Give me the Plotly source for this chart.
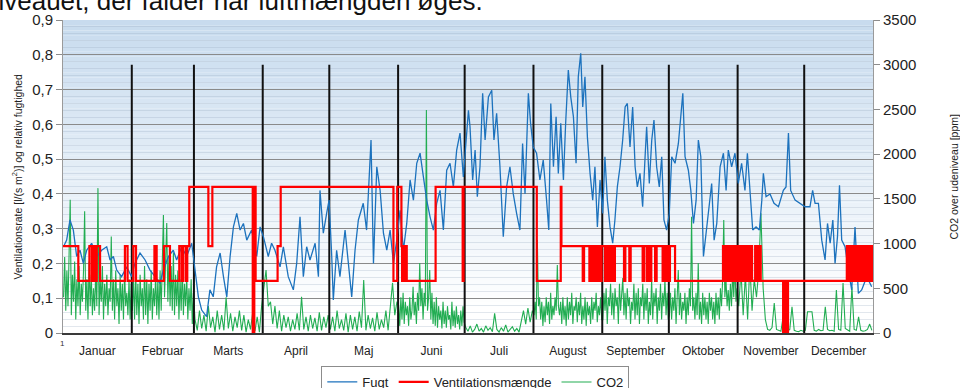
import numpy as np
import plotly.graph_objects as go

# ---------------- DATA ----------------
month_names = ["Januar", "Februar", "Marts", "April", "Maj", "Juni", "Juli",
               "August", "September", "Oktober", "November", "December"]
month_start = [0, 31, 59, 90, 120, 151, 181, 212, 243, 273, 304, 334, 365]
vline_top_ppm = 3000

# Relative humidity (Fugt), left axis
fugt_day = [0.2, 1.65, 3.15, 4.66, 6.16, 7.66, 9.16, 10.67, 12.9, 15.2, 17.4, 19.7, 21.2, 22.7, 24.2, 26.4, 28.7, 30.9,
            32.4, 34.7, 37.0, 39.2, 41.5, 43.7, 45.2, 47.5, 49.7, 51.2, 53.5, 55.7, 58.0, 59.5, 61.0, 62.5, 64.7, 66.2,
            67.7, 69.2, 70.8, 72.3, 73.8, 75.3, 76.8, 78.3, 79.8, 81.3, 82.8, 85.0, 87.3, 88.8, 90.3,
            92.5, 94.0, 95.5, 97.8, 99.3, 101.5, 103.8, 105.3, 106.8, 108.3, 109.8, 111.3, 113.6, 115.1, 115.8, 117.3,
            118.8, 119.9, 121.1, 121.8, 123.3, 124.8, 127.1, 128.6, 130.1, 131.6, 133.1, 135.3, 136.8, 138.8, 139.9,
            141.4, 142.9, 144.4, 145.9, 147.4, 148.9, 150.4, 151.9, 153.4, 154.9, 156.4, 157.9, 159.4, 160.9, 162.4,
            163.9, 165.4, 166.9, 168.4, 169.9, 171.4, 172.9, 174.4, 175.9, 177.4, 178.9, 180.4, 182.7,
            183.4, 184.6, 185.7, 186.7, 187.9, 189.1, 190.2, 191.7, 193.2, 194.2, 195.4, 196.9, 198.4, 199.9, 201.4,
            202.9, 204.4, 205.9, 207.1, 208.2, 209.7, 210.7, 211.9, 213.4, 214.9, 216.4, 217.9, 218.9, 219.8, 221.0,
            222.2, 223.2, 224.3, 225.5, 226.5, 227.7, 228.8, 230.0, 231.2, 232.2, 233.3, 234.2, 235.2, 236.3, 237.5,
            238.7, 239.7, 240.8, 242.0, 243.2, 244.2, 245.3, 246.5, 247.7, 248.7, 249.8, 251.0, 252.2, 253.3, 254.3,
            255.5, 256.7, 257.8, 258.8, 260.0, 261.2, 262.3, 263.0, 264.2, 265.3, 266.3, 267.5, 268.7, 269.8, 270.8,
            272.0, 273.2,
            274.3, 275.8, 277.3, 279.3, 280.3, 281.8, 282.9, 284.1, 285.3, 286.3, 287.4, 288.6, 289.8, 291.3, 292.3,
            293.4, 294.6, 296.1, 297.6, 298.8, 299.8, 301.3, 302.8, 304.3, 305.8, 307.3, 308.4, 309.6, 310.8, 312.3,
            313.8, 314.9, 315.6, 316.8, 318.6, 320.4, 322.4, 324.6, 325.8, 326.9, 327.9, 329.9, 332.1, 334.4, 336.6,
            337.8, 338.9, 340.4, 341.9, 343.4, 344.5, 345.7, 346.9, 347.9, 349.0, 349.9, 350.9, 352.4, 353.9, 355.4,
            356.9, 358.4, 359.9, 362.2, 364.4]
fugt_val = [0.248, 0.267, 0.325, 0.296, 0.22, 0.238, 0.20, 0.238, 0.258, 0.22, 0.238, 0.248, 0.21, 0.22, 0.181, 0.162, 0.19, 0.162,
            0.20, 0.23, 0.21, 0.181, 0.162, 0.143, 0.181, 0.22, 0.238, 0.21, 0.248, 0.22, 0.258, 0.181, 0.104, 0.066, 0.047, 0.124,
            0.104, 0.19, 0.23, 0.162, 0.104, 0.22, 0.305, 0.344, 0.296, 0.315, 0.267, 0.296, 0.22, 0.305, 0.277,
            0.22, 0.258, 0.238, 0.19, 0.248, 0.162, 0.124, 0.20, 0.334, 0.162, 0.248, 0.21, 0.258, 0.162, 0.41, 0.287,
            0.344, 0.382, 0.22, 0.095, 0.238, 0.162, 0.296, 0.20, 0.104, 0.238, 0.325, 0.373, 0.296, 0.555, 0.20,
            0.478, 0.41, 0.287, 0.238, 0.296, 0.20, 0.267, 0.353, 0.238, 0.315, 0.44, 0.382, 0.488, 0.517, 0.449,
            0.382, 0.334, 0.296, 0.373, 0.41, 0.296, 0.468, 0.488, 0.42, 0.526, 0.575, 0.449, 0.64,
            0.593, 0.44, 0.526, 0.392, 0.478, 0.689, 0.555, 0.679, 0.698, 0.555, 0.632, 0.478, 0.277, 0.42, 0.478,
            0.40, 0.344, 0.296, 0.545, 0.40, 0.689, 0.603, 0.535, 0.517, 0.44, 0.497, 0.382, 0.296, 0.66, 0.478,
            0.622, 0.459, 0.603, 0.44, 0.603, 0.756, 0.679, 0.622, 0.488, 0.737, 0.804, 0.65, 0.737, 0.564, 0.459,
            0.382, 0.478, 0.305, 0.44, 0.344, 0.507, 0.382, 0.305, 0.258, 0.325, 0.42, 0.478, 0.555, 0.65, 0.66,
            0.535, 0.65, 0.478, 0.42, 0.459, 0.363, 0.507, 0.593, 0.43, 0.555, 0.612, 0.478, 0.42, 0.507, 0.325,
            0.296, 0.344,
            0.507, 0.488, 0.545, 0.689, 0.507, 0.468, 0.41, 0.315, 0.382, 0.555, 0.507, 0.22, 0.296, 0.373, 0.43,
            0.267, 0.315, 0.478, 0.517, 0.41, 0.526, 0.478, 0.517, 0.43, 0.488, 0.41, 0.517, 0.41, 0.296, 0.305,
            0.296, 0.382, 0.459, 0.392, 0.40, 0.373, 0.363, 0.41, 0.42, 0.575, 0.41, 0.382, 0.373, 0.363, 0.363,
            0.41, 0.373, 0.373, 0.267, 0.21, 0.315, 0.258, 0.325, 0.20, 0.277, 0.425, 0.267, 0.248, 0.181, 0.124,
            0.305, 0.114, 0.124, 0.162, 0.133]

# Ventilation rate (step series), left axis
vent_day = [0, 6.9, 11.9, 13.0, 13.3, 14.0, 14.3, 15.0, 15.2, 16.7, 27.9, 29.1, 31.7, 32.9, 41.2, 42.2, 45.5, 48.2,
            52.4, 53.5, 54.2, 55.4, 56.0, 56.9, 65.5, 67.3, 85.5, 86.2, 86.8, 96.7, 98.1, 148.9, 150.6, 152.5, 152.8,
            153.0, 153.3, 153.5, 153.8, 154.0, 154.3, 154.6, 154.9, 167.9, 180.1, 180.5, 213.5, 224.3, 224.6,
            234.2, 234.8, 237.2, 237.8, 238.7, 239.3, 240.2, 241.2, 242.0, 242.7,
            244.2, 244.6, 244.9, 245.3, 245.6, 246.0, 246.3, 246.7, 247.0, 247.4, 247.7, 248.1, 248.4, 248.7,
            252.8, 253.4, 255.2, 255.8, 261.2, 261.8, 263.0, 263.6, 264.5, 265.1, 266.8, 267.5,
            270.2, 270.6, 270.9, 271.3, 271.6, 272.0, 272.3, 272.7, 273.0, 273.5, 275.8,
            297.4, 297.9, 298.2, 298.8, 299.1, 299.7, 300.0, 300.6, 300.9, 301.5, 301.8, 302.4, 302.7, 303.3,
            303.6, 304.2, 304.5, 305.1, 305.4, 306.0, 306.3, 306.9, 307.2, 307.8, 308.1, 308.7, 309.0, 309.6,
            309.9, 310.5, 311.9, 312.2, 312.9, 313.2, 314.1, 314.4,
            324.5, 324.9, 325.1, 325.5, 325.7, 326.1, 326.3, 326.7,
            353.2, 353.8, 354.1, 354.7, 355.0, 355.6, 355.9, 356.5, 356.8, 357.4, 357.7, 358.3, 358.6, 359.2,
            359.5, 360.1, 360.4, 361.0, 361.3, 361.9, 362.2, 362.8, 363.1, 363.7, 364.0, 364.6, 364.9, 365]
vent_val = [0.25, 0.15, 0.25, 0.15, 0.25, 0.15, 0.25, 0.15, 0.25, 0.15, 0.25, 0.15, 0.25, 0.15, 0.25, 0.15, 0.25, 0.15,
            0.25, 0.15, 0.25, 0.15, 0.25, 0.42, 0.25, 0.42, 0.0, 0.42, 0.15, 0.25, 0.42, 0.15, 0.42, 0.25, 0.15,
            0.25, 0.15, 0.25, 0.15, 0.25, 0.15, 0.25, 0.15, 0.42, 0.15, 0.42, 0.15, 0.42, 0.25,
            0.15, 0.25, 0.15, 0.25, 0.15, 0.25, 0.15, 0.25, 0.15, 0.25,
            0.15, 0.25, 0.15, 0.25, 0.15, 0.25, 0.15, 0.25, 0.15, 0.25, 0.15, 0.25, 0.15, 0.25,
            0.15, 0.25, 0.15, 0.25, 0.15, 0.25, 0.15, 0.25, 0.15, 0.25, 0.15, 0.25,
            0.15, 0.25, 0.15, 0.25, 0.15, 0.25, 0.15, 0.25, 0.15, 0.25, 0.15,
            0.25, 0.15, 0.25, 0.15, 0.25, 0.15, 0.25, 0.15, 0.25, 0.15, 0.25, 0.15, 0.25, 0.15,
            0.25, 0.15, 0.25, 0.15, 0.25, 0.15, 0.25, 0.15, 0.25, 0.15, 0.25, 0.15, 0.25, 0.15,
            0.25, 0.15, 0.25, 0.15, 0.25, 0.15, 0.25, 0.15,
            0.0, 0.15, 0.0, 0.15, 0.0, 0.15, 0.0, 0.15,
            0.25, 0.15, 0.25, 0.15, 0.25, 0.15, 0.25, 0.15, 0.25, 0.15, 0.25, 0.15, 0.25, 0.15,
            0.25, 0.15, 0.25, 0.15, 0.25, 0.15, 0.25, 0.15, 0.25, 0.15, 0.25, 0.15, 0.25, 0.25]

# CO2 above outdoor level [ppm], right axis; readings spread evenly over each month
co2_jan = [400, 850, 250, 700, 300, 950, 1490, 200, 650, 350, 800, 150, 600, 300, 750, 200, 550, 350, 700, 1360,
           250, 600, 150, 800, 300, 650, 200, 500, 250, 700, 300, 1620, 200, 600, 350, 750, 150, 550, 300, 650,
           200, 500, 350, 1080, 250, 600, 150, 700, 300, 500, 100, 650, 250, 550, 150, 700, 300, 450, 200, 600,
           150, 550]
co2_feb = [250, 600, 150, 700, 200, 550, 100, 650, 300, 500, 150, 750, 200, 600, 100, 550, 250, 700, 150, 500,
           300, 650, 200, 600, 150, 700, 250, 800, 1320, 400, 900, 1230, 350, 850, 300, 750, 250, 900, 200, 650,
           300, 700, 150, 600, 250, 750, 200, 550, 300, 650, 150, 500, 250, 600, 100, 450]
co2_mar = [150, 30, 250, 50, 200, 20, 300, 60, 180, 10, 250, 40, 200, 30, 400, 50, 220, 20, 180, 60, 250, 30, 200,
           10, 150, 40, 230, 20, 180, 10, 300]
co2_apr = [500, 705, 300, 350, 100, 300, 50, 250, 20, 200, 60, 180, 20, 150, 40, 220, 30, 406, 40, 180, 20, 200,
           50, 170, 20, 230, 30, 180, 60, 200]
co2_may = [40, 180, 20, 250, 50, 150, 30, 220, 10, 200, 40, 180, 20, 240, 60, 593, 30, 200, 50, 170, 20, 230, 40,
           150, 60, 250, 30, 300, 560, 200, 350]
co2_jun = [300, 80, 400, 150, 450, 100, 350, 200, 300, 80, 400, 150, 250, 518, 200, 350, 100, 450, 250, 783,
           300, 500, 150, 450, 300, 2495, 250, 400, 705, 150, 450, 100, 350, 80, 400, 60, 300, 150, 250, 50,
           350, 100, 250, 60, 300, 150, 200, 40, 350, 80, 250, 60, 300, 100, 200, 40, 250, 80, 300, 120]
co2_jul = [60, 20, 80, 10, 40, 100, 20, 50, 10, 80, 30, 60, 15, 220, 40, 10, 60, 20, 90, 10, 40, 70, 20, 50, 10,
           150, 250, 100, 280, 120, 250]
co2_aug = [200, 350, 150, 1040, 300, 400, 150, 350, 80, 300, 120, 400, 200, 350, 100, 450, 150, 300, 200, 400,
           250, 760, 300, 200, 350, 100, 400, 150, 300, 80, 400, 150, 350, 200, 450, 100, 300, 250, 400, 120,
           350, 200, 450, 100, 300, 150, 400, 80, 350, 200, 300, 100, 400, 150, 350, 250, 450, 120, 300, 200,
           400, 150]
co2_sep = [150, 450, 250, 500, 100, 400, 300, 550, 200, 450, 150, 500, 300, 400, 100, 550, 250, 450, 615, 200,
           450, 150, 500, 300, 400, 100, 350, 250, 550, 150, 450, 200, 500, 100, 400, 300, 550, 150, 450, 250,
           500, 100, 350, 200, 600, 150, 450, 300, 500, 100, 400, 250, 550, 150, 450, 300, 600, 200, 450, 150]
co2_oct = [200, 450, 150, 400, 250, 500, 100, 400, 705, 200, 450, 150, 350, 250, 450, 100, 400, 200, 500, 300,
           1300, 250, 400, 150, 450, 200, 783, 150, 350, 100, 450, 200, 400, 150, 350, 100, 450, 250, 400, 150,
           350, 100, 450, 200, 400, 150, 500, 300, 600, 1264, 400, 600, 300, 480, 250, 550, 300, 700, 400, 783,
           350, 500]
co2_nov = [300, 700, 200, 650, 150, 780, 250, 600, 400, 700, 1340, 500, 150, 40, 30, 60, 335, 40, 30, 20, 182, 30,
           20, 40, 294, 30, 20, 15, 30, 20]
co2_dec = [30, 238, 238, 238, 30, 20, 40, 25, 30, 294, 40, 25, 30, 20, 481, 40, 30, 560, 50, 30, 20, 518, 40, 30,
           180, 30, 20, 25, 40, 100, 30]

# ---------------- FIGURE ----------------
co2_months = [co2_jan, co2_feb, co2_mar, co2_apr, co2_may, co2_jun, co2_jul, co2_aug, co2_sep, co2_oct,
              co2_nov, co2_dec]
co2_day, co2_val = [], []
for m, vals in enumerate(co2_months):
    s, e = month_start[m], month_start[m + 1]
    step = (e - s) / len(vals)
    co2_day += [s + (i + 0.5) * step for i in range(len(vals))]
    co2_val += vals

month_mid = [(a + b) / 2 for a, b in zip(month_start[:-1], month_start[1:])]
bx, by = [], []
for b in month_start[1:-1]:
    bx += [b, b, None]
    by += [0, vline_top_ppm, None]

FONT = "Arial, Liberation Sans, sans-serif"
BLUE = "#1c72bd"
RED = "#ff0000"
GREEN = "#22ad52"

fig = go.Figure()
fig.add_trace(go.Scatter(x=co2_day, y=co2_val, mode="lines", name="CO2", yaxis="y",
                         line=dict(color=GREEN, width=1.1), legendrank=3))
fig.add_trace(go.Scatter(x=bx, y=by, mode="lines", yaxis="y", showlegend=False, hoverinfo="skip",
                         line=dict(color="#111111", width=2)))
fig.add_trace(go.Scatter(x=fugt_day, y=fugt_val, mode="lines", name="Fugt", yaxis="y2",
                         line=dict(color=BLUE, width=1.3), legendrank=1))
fig.add_trace(go.Scatter(x=vent_day, y=vent_val, mode="lines", name="Ventilationsmængde", yaxis="y2",
                         line=dict(color=RED, width=2.2, shape="hv"), legendrank=2))

# gradient background
shapes = []
N = 60
top = (200, 219, 238)
for i in range(N):
    f = (i + 0.5) / N
    t = max(0.0, (f - 0.08) / 0.92)
    c = tuple(int(round(255 + (tc - 255) * t)) for tc in top)
    shapes.append(dict(type="rect", xref="paper", yref="paper", x0=0, x1=1, y0=i / N, y1=(i + 1) / N,
                       fillcolor="rgb(%d,%d,%d)" % c, line=dict(width=0), layer="below"))

annotations = [
    dict(text="niveauet, der falder når luftmængden øges.", xref="paper", yref="paper",
         x=-0.1, y=1.0064, xanchor="left", yanchor="bottom", showarrow=False,
         font=dict(family=FONT, size=26, color="#111111")),
    dict(text="Ventilationsrate [l/(s m<sup>2</sup>)] og relativ fugtighed", xref="paper", yref="paper",
         x=-0.0568, y=0.5, textangle=-90, showarrow=False, xanchor="center", yanchor="middle",
         font=dict(family=FONT, size=10.5, color="#222222")),
    dict(text="CO2 over udeniveau [ppm]", xref="paper", yref="paper",
         x=1.0988, y=0.5, textangle=-90, showarrow=False, xanchor="center", yanchor="middle",
         font=dict(family=FONT, size=10.5, color="#222222")),
    dict(text="1", xref="paper", yref="paper", x=-0.001, y=-0.032, showarrow=False,
         xanchor="center", yanchor="middle", font=dict(family=FONT, size=8, color="#333333")),
]

left_ticks = [i / 10 for i in range(10)]
left_text = ["0"] + ["0,%d" % i for i in range(1, 10)]

fig.update_layout(
    width=960, height=388,
    margin=dict(l=63, r=87, t=20, b=55, autoexpand=False),
    paper_bgcolor="white", plot_bgcolor="white",
    font=dict(family=FONT, color="#222222"),
    shapes=shapes, annotations=annotations,
    showlegend=True,
    legend=dict(orientation="h", x=0.509, xanchor="center", y=-0.1054, yanchor="top",
                bordercolor="#8c8c8c", borderwidth=1, bgcolor="white",
                font=dict(family=FONT, size=13, color="#222222"),
                tracegroupgap=0, itemwidth=30),
    xaxis=dict(range=[0, 365], tickvals=month_mid, ticktext=month_names, ticks="",
               ticklabelstandoff=6, tickfont=dict(size=12, color="#222222"), automargin=False,
               showgrid=False, zeroline=False, showline=True, linecolor="#3a3a3a", linewidth=2),
    yaxis=dict(range=[0, 3500], side="right", tickvals=list(range(0, 3501, 500)), automargin=False,
               ticks="outside", ticklen=6, tickcolor="#8c8c8c", showgrid=False, zeroline=False,
               showline=True, linecolor="#9a9a9a", linewidth=1,
               tickfont=dict(size=15, color="#222222")),
    yaxis2=dict(range=[0, 0.9], side="left", overlaying="y", tickvals=left_ticks, ticktext=left_text,
                automargin=False,
                ticks="outside", ticklen=6, tickcolor="#8c8c8c", showgrid=True, gridcolor="#8a8a8a",
                gridwidth=1, zeroline=False, showline=True, linecolor="#9a9a9a", linewidth=1,
                minor=dict(dtick=0.02, showgrid=True, gridcolor="rgba(150,168,190,0.28)", gridwidth=1, ticks=""),
                tickfont=dict(size=15, color="#222222")),
)

fig.write_html("out.html", config={"displayModeBar": False},
               post_script="document.body.style.margin='0px';")
